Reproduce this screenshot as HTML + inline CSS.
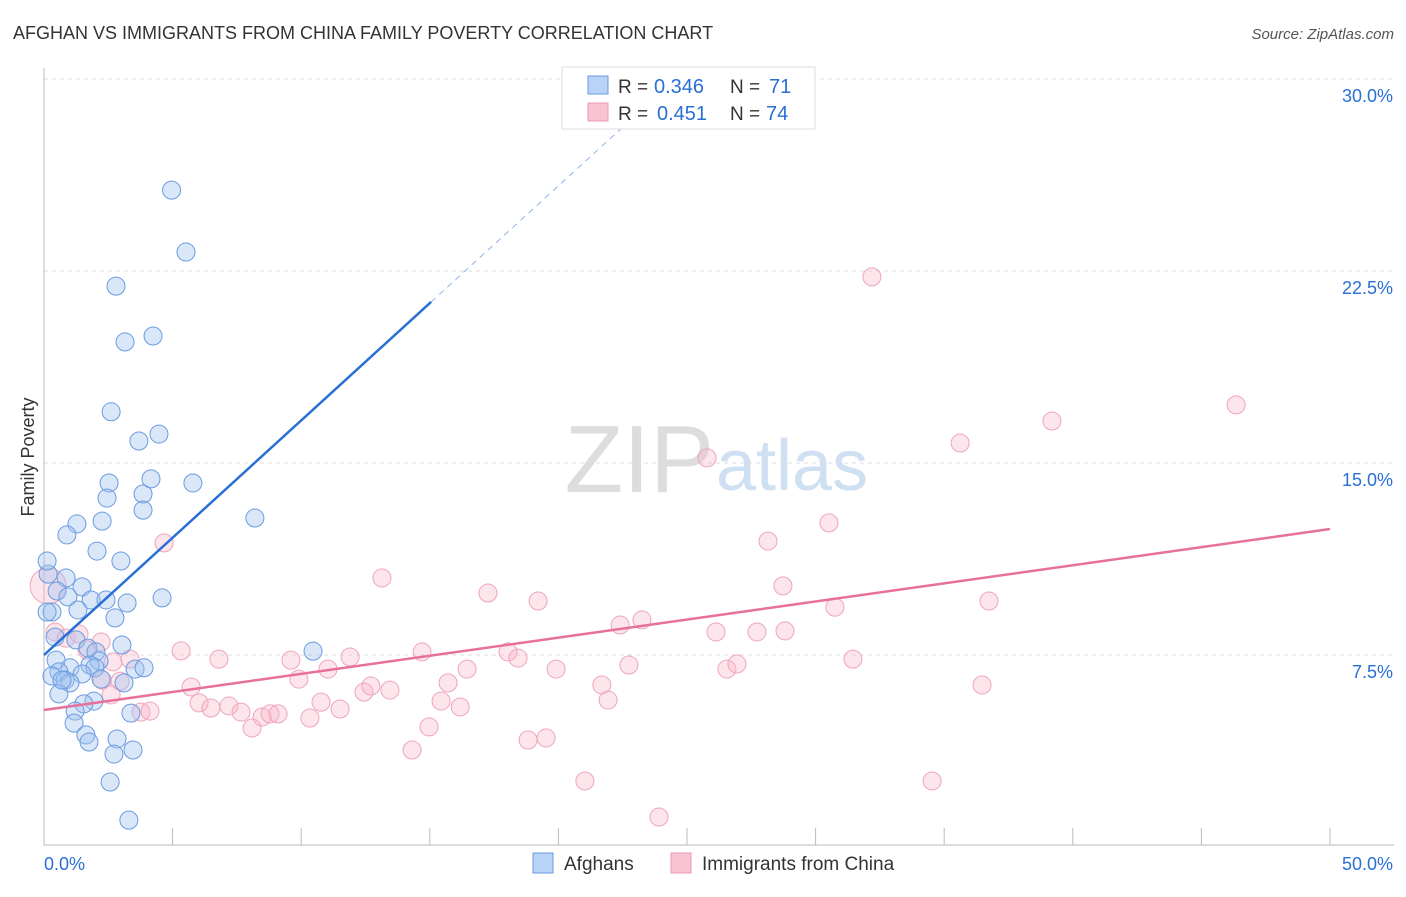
<!DOCTYPE html>
<html><head><meta charset="utf-8"><style>
body{margin:0;background:#fff;font-family:"Liberation Sans",sans-serif}
svg text{font-family:"Liberation Sans",sans-serif}
</style></head><body>
<svg id="c" width="1406" height="892" xmlns="http://www.w3.org/2000/svg">
<text x="13" y="39" font-size="18" fill="#333">AFGHAN VS IMMIGRANTS FROM CHINA FAMILY POVERTY CORRELATION CHART</text>
<text x="1394" y="39" font-size="15" fill="#555" text-anchor="end" font-style="italic">Source: ZipAtlas.com</text>
<text x="714" y="492" font-size="96" fill="#ddd" text-anchor="end" font-family="Liberation Serif">ZIP</text>
<text x="716" y="490" font-size="72" fill="#cfe0f3">atlas</text>
<text transform="translate(34,457) rotate(-90)" font-size="18" fill="#333" text-anchor="middle">Family Poverty</text>
<g id="grid"></g><g id="pts"></g><g id="lines"></g>
<g>
<rect x="562" y="67" width="253" height="62" fill="#fff" stroke="#ddd"/>
<rect x="588" y="76" width="20" height="18" fill="#b8d3f5" stroke="#6a9be0"/>
<rect x="588" y="103" width="20" height="18" fill="#fac3d3" stroke="#eb9ab3"/>
<text x="618" y="93" font-size="19" fill="#333">R =</text><text x="654" y="93" font-size="20" fill="#2a6fd6">0.346</text>
<text x="730" y="93" font-size="19" fill="#333">N =</text><text x="769" y="93" font-size="20" fill="#2a6fd6">71</text>
<text x="618" y="120" font-size="19" fill="#333">R =</text><text x="657" y="120" font-size="20" fill="#2a6fd6">0.451</text>
<text x="730" y="120" font-size="19" fill="#333">N =</text><text x="766" y="120" font-size="20" fill="#2a6fd6">74</text>
</g>
<g>
<rect x="533" y="853" width="20" height="20" fill="#b8d3f5" stroke="#6a9be0"/>
<text x="564" y="870" font-size="19" fill="#333">Afghans</text>
<rect x="671" y="853" width="20" height="20" fill="#fac3d3" stroke="#eb9ab3"/>
<text x="702" y="870" font-size="19" fill="#333">Immigrants from China</text>
</g>
</svg>
<script>
const yTicks=[7.5,15,22.5,30];
const xTickLabels=["0.0%","50.0%"];
const blueX=[4.96,5.52,2.8,3.15,4.24,2.61,3.69,4.47,2.53,2.45,3.85,4.16,5.79,3.85,2.26,1.28,0.89,2.06,2.99,8.2,0.16,0.86,1.48,0.51,0.93,1.83,2.41,3.23,4.59,0.31,1.32,2.76,0.43,1.24,1.71,3.03,2.02,0.47,2.14,1.79,1.01,1.98,3.54,3.89,0.58,0.31,1.48,2.22,0.82,1.01,3.11,0.58,1.94,1.55,1.21,3.38,1.17,1.63,2.84,1.75,2.72,3.46,2.57,3.3,10.46,0.12,0.7,0.12];
const blueY=[25.66,23.24,21.91,19.73,19.96,17.0,15.86,16.13,14.22,13.63,13.79,14.38,14.22,13.16,12.73,12.62,12.19,11.56,11.17,12.85,10.66,10.51,10.16,10.0,9.77,9.65,9.65,9.53,9.73,9.18,9.26,8.95,8.2,8.09,7.77,7.89,7.62,7.3,7.27,7.11,7.0,7.0,6.95,7.0,6.84,6.68,6.76,6.56,6.52,6.41,6.41,5.98,5.7,5.59,5.31,5.23,4.84,4.38,4.22,4.1,3.63,3.79,2.54,1.05,7.65,11.17,6.52,9.18];
const pinkX=[0.16,0.43,0.86,1.36,1.67,2.22,2.68,3.34,2.26,2.96,2.61,3.77,4.12,4.67,5.33,5.72,6.03,6.49,6.8,7.19,7.66,8.09,8.48,8.79,9.1,9.6,9.91,10.34,10.77,11.04,11.51,11.9,12.44,12.71,13.45,13.14,14.31,14.7,14.97,15.44,15.71,16.18,16.45,17.26,18.04,18.43,18.82,19.21,19.52,19.91,21.03,21.69,21.93,22.4,22.74,23.25,23.91,25.78,26.13,26.55,26.94,27.72,28.15,28.73,28.81,30.52,30.75,31.45,32.19,34.53,35.62,36.47,36.74,39.19,46.35];
const pinkY=[10.2,8.4,8.16,8.32,7.7,8.01,7.23,7.34,6.52,6.48,5.94,5.27,5.31,11.88,7.66,6.25,5.63,5.43,7.34,5.51,5.27,4.65,5.08,5.2,5.2,7.3,6.56,5.04,5.66,6.95,5.39,7.42,6.05,6.29,6.13,10.51,3.79,7.62,4.69,5.7,6.41,5.47,6.95,9.92,7.62,7.38,4.18,9.61,4.26,6.95,2.58,6.33,5.74,8.67,7.11,8.87,1.17,15.2,8.4,6.95,7.15,8.4,11.95,10.2,8.44,12.66,9.37,7.34,22.27,2.58,15.78,6.33,9.61,16.64,17.27];
const blueLine=[0,7.5,15.05,21.29], pinkLine=[0,5.35,50,12.42];
const X=v=>44+v/50*1286, Y=v=>847-v*25.6;
const NS="http://www.w3.org/2000/svg";
function mk(t,a,p){const e=document.createElementNS(NS,t);for(const k in a)e.setAttribute(k,a[k]);p.appendChild(e);return e;}
const g=document.getElementById('grid'),c=document.getElementById('c');
yTicks.forEach(v=>{
 const l=mk('line',{x1:44,x2:1394,y1:Y(v),y2:Y(v),stroke:'#ddd','stroke-dasharray':'4,4'},g);
 
 
 const t=mk('text',{x:1393,y:Y(v)+23,'font-size':18,fill:'#2a6fd6','text-anchor':'end'},g);
 t.textContent=v.toFixed(1)+'%';
 
 
});
mk('line',{x1:44,x2:44,y1:68,y2:845,stroke:'#bbb'},g);
mk('line',{x1:44,x2:1394,y1:845,y2:845,stroke:'#bbb'},g);
for(let i=0;i<=10;i++){const l=mk('line',{x1:X(i*5),x2:X(i*5),y1:828,y2:845,stroke:'#bbb'},g);
 
 }
xTickLabels.forEach((s,i)=>{const t=mk('text',{x:i?1393:44,y:870,'font-size':18,fill:'#2a6fd6','text-anchor':i?'end':'start'},g);t.textContent=s;
 
 });
const p=document.getElementById('pts');
pinkX.forEach((x,i)=>{const e=mk('circle',{cx:X(x),cy:Y(pinkY[i]),r:i==0?18:9,fill:'rgba(248,180,200,0.35)',stroke:'#eea5bc','stroke-width':1},p);
 
 });
blueX.forEach((x,i)=>{const e=mk('circle',{cx:X(x),cy:Y(blueY[i]),r:9,fill:'rgba(160,196,240,0.4)',stroke:'#6a9be0','stroke-width':1},p);
 
 });
const L=document.getElementById('lines');
const s=(blueLine[3]-blueLine[1])/(blueLine[2]-blueLine[0]);
const xe=(30.5-blueLine[1])/s;
const bd=mk('line',{x1:X(blueLine[2]),y1:Y(blueLine[3]),x2:X(xe),y2:Y(30.5),stroke:'#8fb4e8','stroke-dasharray':'6,5','stroke-width':1},L);


const bl=mk('line',{x1:X(blueLine[0]),y1:Y(blueLine[1]),x2:X(blueLine[2]),y2:Y(blueLine[3]),stroke:'#2a6fd6','stroke-width':2.5},L);


const pl=mk('line',{x1:X(pinkLine[0]),y1:Y(pinkLine[1]),x2:X(pinkLine[2]),y2:Y(pinkLine[3]),stroke:'#e8709a','stroke-width':2.5},L);


</script>
</body></html>
